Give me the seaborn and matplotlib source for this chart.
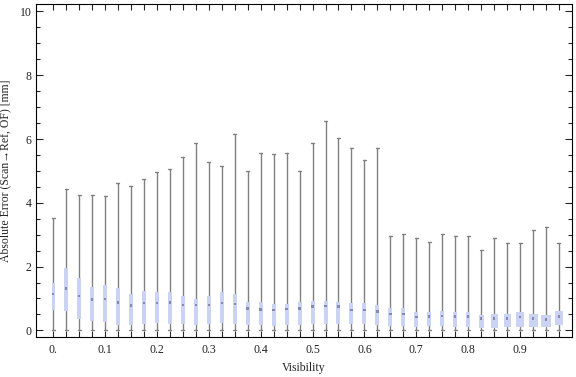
import matplotlib
matplotlib.use("Agg")
import matplotlib.pyplot as plt
import numpy as np
import seaborn as sns

# box positions (visibility bins)
visibility = [0.0, 0.025, 0.05, 0.075, 0.1, 0.125, 0.15, 0.175, 0.2, 0.225,
              0.25, 0.275, 0.3, 0.325, 0.35, 0.375, 0.4, 0.425, 0.45, 0.475,
              0.5, 0.525, 0.55, 0.575, 0.6, 0.625, 0.65, 0.675, 0.7, 0.725,
              0.75, 0.775, 0.8, 0.825, 0.85, 0.875, 0.9, 0.925, 0.95, 0.975]

whisker_hi = [3.52, 4.44, 4.25, 4.25, 4.22, 4.61, 4.54, 4.76, 4.98, 5.07,
              5.45, 5.88, 5.29, 5.16, 6.17, 5.01, 5.57, 5.54, 5.57, 5.01,
              5.88, 6.57, 6.04, 5.73, 5.35, 5.73, 2.95, 3.03, 2.91, 2.78,
              3.03, 2.97, 2.97, 2.53, 2.91, 2.75, 2.75, 3.16, 3.23, 2.75]
whisker_lo = [0.0] * 40

q3 = [1.50, 1.94, 1.65, 1.37, 1.41, 1.34, 1.13, 1.22, 1.19, 1.19,
      1.07, 0.97, 1.07, 1.19, 1.13, 0.88, 0.88, 0.82, 0.82, 0.90,
      0.93, 0.93, 0.90, 0.87, 0.85, 0.78, 0.69, 0.69, 0.56, 0.56,
      0.60, 0.56, 0.56, 0.47, 0.50, 0.50, 0.56, 0.50, 0.47, 0.60]
median = [1.14, 1.31, 1.07, 0.97, 0.98, 0.87, 0.78, 0.85, 0.85, 0.87,
          0.79, 0.79, 0.79, 0.86, 0.82, 0.69, 0.65, 0.64, 0.67, 0.69,
          0.75, 0.76, 0.75, 0.64, 0.63, 0.59, 0.52, 0.52, 0.41, 0.44,
          0.45, 0.43, 0.43, 0.37, 0.37, 0.37, 0.41, 0.37, 0.34, 0.44]
q1 = [0.63, 0.61, 0.35, 0.28, 0.26, 0.18, 0.17, 0.20, 0.23, 0.20,
      0.20, 0.17, 0.20, 0.23, 0.20, 0.17, 0.17, 0.13, 0.17, 0.17,
      0.20, 0.20, 0.20, 0.20, 0.20, 0.17, 0.13, 0.13, 0.10, 0.13,
      0.15, 0.10, 0.10, 0.07, 0.07, 0.10, 0.10, 0.10, 0.10, 0.17]

x_labels = {0.0: "0.", 0.1: "0.1", 0.2: "0.2", 0.3: "0.3", 0.4: "0.4",
            0.5: "0.5", 0.6: "0.6", 0.7: "0.7", 0.8: "0.8", 0.9: "0.9"}

sns.set_style("ticks")
plt.rcParams['font.family'] = ['Liberation Serif', 'DejaVu Serif']

# box widths in pixels (the last few boxes are drawn wider)
px = 1.0 / 518
box_px = [3] + [4] * 32 + [5, 7, 7, 8, 9, 10, 8]
widths = [w * px for w in box_px]

fig = plt.figure(figsize=(5.76, 3.77), dpi=100)
ax = fig.add_axes([0.0625, 0.106, 0.9305, 0.883])

stats = []
for i in range(len(visibility)):
    stats.append(dict(med=median[i], q1=q1[i], q3=q3[i],
                      whislo=whisker_lo[i], whishi=whisker_hi[i], fliers=[]))

ax.bxp(stats, positions=visibility, widths=widths, capwidths=3 * px,
       patch_artist=True, showfliers=False, manage_ticks=False,
       boxprops=dict(facecolor="#cbd3f4", edgecolor="none", linewidth=0, zorder=3),
       whiskerprops=dict(color="#808080", linewidth=1.0, zorder=2),
       capprops=dict(color="#808080", linewidth=1.0, zorder=2),
       medianprops=dict(linewidth=0))

sns.scatterplot(x=visibility, y=median, ax=ax, marker="s", s=3,
                color="#8a8aa8", edgecolor="none", zorder=4, legend=False)

ax.set_xlim(-0.033, 1.0)
ax.set_ylim(-0.21, 10.23)

ax.set_xticks(visibility)
ax.set_xticklabels([x_labels.get(v, "") for v in visibility])
ax.set_yticks([0, 2, 4, 6, 8, 10])
ax.set_yticks(np.arange(0, 10.01, 0.5), minor=True)

ax.tick_params(axis="x", direction="in", top=True, length=4, width=0.8,
               pad=5, labelsize=8.5, labelcolor="#222222")
ax.tick_params(axis="y", which="major", direction="in", right=True, length=5,
               width=0.8, pad=3, labelsize=8.5, labelcolor="#222222")
ax.tick_params(axis="y", which="minor", direction="in", right=True, length=3,
               width=0.8)

for s in ax.spines.values():
    s.set_color("black")
    s.set_linewidth(0.8)

ax.set_xlabel("Visibility", fontsize=8.5, labelpad=4)
ax.set_ylabel("Absolute Error (Scan\u2192Ref, OF) [mm]", fontsize=8.5, labelpad=6)

fig.savefig("out.png", dpi=100)
